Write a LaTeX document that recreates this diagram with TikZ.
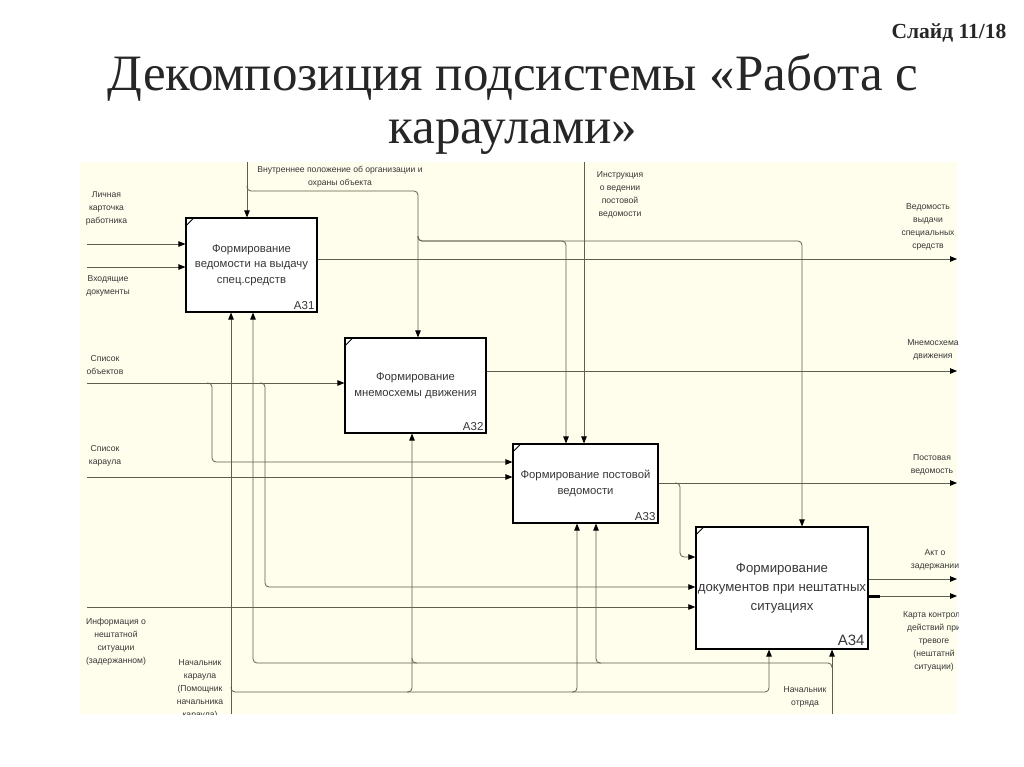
\documentclass[tikz,border=0pt]{standalone}
\usepackage{fontspec}
\setmainfont{Liberation Serif}
\newfontfamily\diagfont{Liberation Sans}
\usetikzlibrary{arrows.meta}
\definecolor{paper}{RGB}{255,253,236}
\definecolor{wirec}{RGB}{95,95,80}
\definecolor{ink}{RGB}{55,55,55}

\begin{document}
\begin{tikzpicture}[
    x=1pt, y=-1pt,
    func/.style={draw=black, line width=1.2pt, fill=white, rectangle, align=center, inner sep=2pt,
      font=\diagfont\fontsize{11.3}{15.5}\selectfont, text=ink},
    tag/.style={font=\diagfont\fontsize{11.5}{12}\selectfont, text=ink, inner sep=0pt, anchor=south east},
    lbl/.style={font=\diagfont\fontsize{8.6}{13}\selectfont, text=ink, align=center, inner sep=0pt},
    wire/.style={draw=wirec, line width=0.8pt, rounded corners=4pt},
    arr/.style={wire, -{Triangle[length=7pt,width=5.5pt,color=black]}}
  ]

  \fill[white] (0,0) rectangle (1024,767);
  \useasboundingbox (0,0) rectangle (1024,767);

  % title
  \node[font=\fontsize{51}{53}\selectfont, text=black!85, align=center, inner sep=0pt, anchor=north] (title) at (513,54)
    {Декомпозиция подсистемы «Работа с\\караулами»};
  \node[font=\bfseries\fontsize{21.5}{24}\selectfont, text=black!85, inner sep=0pt] (slide) at (949,33) {Слайд 11/18};

  \fill[paper] (80,162) rectangle (957,714);

  \begin{scope}
    \clip (80,162) rectangle (958,714);

    % functions
    \node[func, minimum width=131pt, minimum height=94pt] (a31) at (251.5,265)
      {Формирование\\ведомости на выдачу\\спец.средств};
    \node[func, minimum width=141pt, minimum height=95pt] (a32) at (415.5,385.5)
      {Формирование\\мнемосхемы движения};
    \node[func, minimum width=145pt, minimum height=79pt] (a33) at (585.5,483.5)
      {Формирование постовой\\ведомости};
    \node[func, minimum width=170pt, minimum height=122pt, font=\diagfont\fontsize{13.2}{19}\selectfont] (a34) at (782,588)
      {Формирование\\документов при нештатных\\ситуациях};

    \foreach \b in {a31,a32,a33,a34}
      \draw[line width=0.8pt] ([yshift=-9pt]\b.north west) -- ([xshift=9pt]\b.north west);

    \node[tag] (t31) at ([xshift=-3pt,yshift=3pt]a31.south east) {A31};
    \node[tag] (t32) at ([xshift=-3pt,yshift=3pt]a32.south east) {A32};
    \node[tag] (t33) at ([xshift=-3pt,yshift=3pt]a33.south east) {A33};
    \node[tag, font=\diagfont\fontsize{15}{16}\selectfont] (t34) at ([xshift=-4pt,yshift=4pt]a34.south east) {A34};

    % free ends
    \coordinate (in-lk) at (87,244);
    \coordinate (in-vd) at (87,267);
    \coordinate (in-so) at (87,383);
    \coordinate (in-sk) at (87,477);
    \coordinate (in-ns) at (87,607);
    \coordinate (out-vv) at (957,259);
    \coordinate (out-mn) at (957,371);
    \coordinate (out-pv) at (957,483);
    \coordinate (out-az) at (957,579);
    \coordinate (out-kk) at (957,596);
    \coordinate (ct-vp) at (247,162);
    \coordinate (ct-in) at (584,162);
    \coordinate (mc-nk) at (231,714);
    \coordinate (mc-no) at (832,714);

    % bends
    \coordinate (so-a) at (212,462);
    \coordinate (so-b) at (265,587);
    \coordinate (pv-a) at (680,557);
    \coordinate (vp-a) at (418,191);
    \coordinate (vp-b) at (418,241);
    \coordinate (vp-c) at (566,241);
    \coordinate (vp-d) at (802,241);
    \coordinate (nk-a) at (769,692);
    \coordinate (nk-b) at (412,692);
    \coordinate (nk-c) at (577,692);
    \coordinate (no-a) at (253,663);
    \coordinate (no-b) at (596,663);
    \coordinate (no-c) at (412,663);

    % inputs
    \draw[arr] (in-lk) -- (in-lk -| a31.west);
    \draw[arr] (in-vd) -- (in-vd -| a31.west);
    \draw[arr] (in-so) -- (in-so -| a32.west);
    \draw[arr] (so-a |- in-so) ++(-5,0) -- ++(5,0) -- (so-a) -- (so-a -| a33.west);
    \draw[arr] (so-b |- in-so) ++(-5,0) -- ++(5,0) -- (so-b) -- (so-b -| a34.west);
    \draw[arr] (in-sk) -- (in-sk -| a33.west);
    \draw[arr] (in-ns) -- (in-ns -| a34.west);

    % controls
    \draw[arr] (ct-vp) -- (ct-vp |- a31.north);
    \draw[arr] (ct-vp |- vp-a) ++(0,-5) -- ++(0,5) -- (vp-a) -- (vp-a |- a32.north);
    \draw[arr] (vp-b) ++(0,-5) -- ++(0,5) -- (vp-c) -- (vp-c |- a33.north);
    \draw[arr] (vp-b) ++(0,-5) -- ++(0,5) -- (vp-d) -- (vp-d |- a34.north);
    \draw[arr] (ct-in) -- (ct-in |- a33.north);

    % outputs
    \draw[arr] (a31.east |- out-vv) -- (out-vv);
    \draw[arr] (a32.east |- out-mn) -- (out-mn);
    \draw[arr] (a33.east |- out-pv) -- (out-pv);
    \draw[arr] (pv-a |- out-pv) ++(-5,0) -- ++(5,0) -- (pv-a) -- (pv-a -| a34.west);
    \draw[arr] (a34.east |- out-az) -- (out-az);
    \draw[arr] (a34.east |- out-kk) -- (out-kk);
    \draw[line width=3pt] (a34.east |- out-kk) -- ++(11,0);

    % mechanisms
    \draw[arr] (mc-nk) -- (mc-nk |- a31.south);
    \draw[arr] (mc-nk |- nk-a) ++(0,-5) -- ++(0,5) -- (nk-a) -- (nk-a |- a34.south);
    \draw[arr] (nk-b) ++(-5,0) -- ++(5,0) -- (nk-b |- a32.south);
    \draw[arr] (nk-c) ++(-5,0) -- ++(5,0) -- (nk-c |- a33.south);
    \draw[arr] (mc-no) -- (mc-no |- a34.south);
    \draw[arr] (mc-no |- no-a) ++(0,5) -- ++(0,-5) -- (no-a) -- (no-a |- a31.south);
    \draw[arr] (no-b) ++(5,0) -- ++(-5,0) -- (no-b |- a33.south);
    \draw[wire] (no-c) ++(5,0) -- ++(-5,0) -- ++(0,-5);

    % labels
    \node[lbl] (l-lk) at (106.5,208) {Личная\\карточка\\работника};
    \node[lbl] (l-vd) at (108,286) {Входящие\\документы};
    \node[lbl] (l-so) at (105,365) {Список\\объектов};
    \node[lbl] (l-sk) at (105,455.5) {Список\\караула};
    \node[lbl] (l-ns) at (116,642) {Информация о\\нештатной\\ситуации\\(задержанном)};
    \node[lbl] (l-nk) at (200,689) {Начальник\\караула\\(Помощник\\начальника\\караула)};
    \node[lbl] (l-no) at (805,697) {Начальник\\отряда};
    \node[lbl] (l-vp) at (340,177) {Внутреннее положение об организации и\\охраны объекта};
    \node[lbl] (l-in) at (620,195) {Инструкция\\о ведении\\постовой\\ведомости};
    \node[lbl] (l-vv) at (928,226.5) {Ведомость\\выдачи\\специальных\\средств};
    \node[lbl] (l-mn) at (933,349.5) {Мнемосхема\\движения};
    \node[lbl] (l-pv) at (932,465) {Постовая\\ведомость};
    \node[lbl] (l-az) at (935,559.5) {Акт о\\задержании};
    \node[lbl] (l-kk) at (934,641.5) {Карта контроля\\действий при\\тревоге\\(нештатнй\\ситуации)};
  \end{scope}
\end{tikzpicture}
\end{document}
